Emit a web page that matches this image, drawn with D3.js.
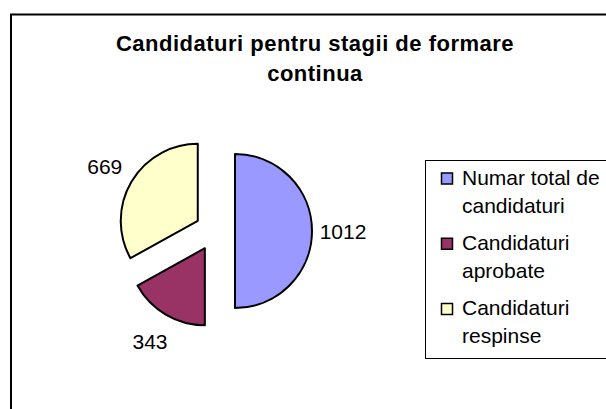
<!DOCTYPE html>
<html lang="en">
<head>
    <meta charset="UTF-8">
    <title>Candidaturi pentru stagii de formare continua</title>
    <script src="https://d3js.org/d3.v7.min.js"></script>
    <style>
        body {
            margin: 0;
            padding: 0;
            background: #fff;
            font-family: "Liberation Sans", Arial, sans-serif;
        }
        svg { display: block; }
    </style>
</head>
<body>
    <svg id="chart" width="606" height="409"></svg>

    <script>
        // chart data
        const titleLines = ["Candidaturi pentru stagii de formare", "continua"];
        const categories = ["Numar total de candidaturi", "Candidaturi aprobate", "Candidaturi respinse"];
        const legendLines = [["Numar total de", "candidaturi"], ["Candidaturi", "aprobate"], ["Candidaturi", "respinse"]];
        const values = [1012, 343, 669];
        const colors = ["#9999FF", "#993366", "#FFFFCC"];

        const svg = d3.select("#chart");

        // outer chart frame (runs past the right/bottom edges)
        svg.append("rect")
            .attr("x", 11)
            .attr("y", 14.5)
            .attr("width", 640)
            .attr("height", 420)
            .attr("fill", "#fff")
            .attr("stroke", "#000")
            .attr("stroke-width", 2);

        // title
        svg.append("text")
            .attr("x", 315)
            .attr("text-anchor", "middle")
            .style("font-size", "22px")
            .style("font-weight", "bold")
            .style("letter-spacing", "0.5px")
            .selectAll("tspan")
            .data(titleLines)
            .join("tspan")
            .attr("x", 315)
            .attr("y", (d, i) => 51 + i * 30)
            .text(d => d);

        // pie
        const cx = 215, cy = 231, radius = 77, explode = 20;

        const pie = d3.pie().sort(null).value(d => d);
        const arcs = pie(values);

        const arc = d3.arc().innerRadius(0).outerRadius(radius);
        const labelArc = d3.arc().innerRadius(explode + 108).outerRadius(explode + 108);

        const g = svg.append("g").attr("transform", `translate(${cx},${cy})`);

        g.selectAll("path")
            .data(arcs)
            .join("path")
            .attr("d", arc)
            .attr("fill", (d, i) => colors[i])
            .attr("stroke", "#000")
            .attr("stroke-width", 2)
            .attr("stroke-linejoin", "round")
            .attr("transform", d => {
                const a = (d.startAngle + d.endAngle) / 2;
                return `translate(${Math.sin(a) * explode},${-Math.cos(a) * explode})`;
            });

        g.selectAll("text.lbl")
            .data(arcs)
            .join("text")
            .attr("class", "lbl")
            .attr("transform", d => `translate(${labelArc.centroid(d)})`)
            .attr("text-anchor", "middle")
            .attr("dy", "0.36em")
            .style("font-size", "21px")
            .text(d => d.data);

        // legend
        const legend = svg.append("g");

        legend.append("rect")
            .attr("x", 425.5)
            .attr("y", 160.5)
            .attr("width", 220)
            .attr("height", 198)
            .attr("fill", "#fff")
            .attr("stroke", "#000")
            .attr("stroke-width", 1);

        const ly = d3.scaleLinear().domain([0, 2]).range([184.5, 315]);

        const item = legend.selectAll("g.item")
            .data(categories)
            .join("g")
            .attr("class", "item")
            .attr("transform", (d, i) => `translate(0,${ly(i)})`);

        item.append("rect")
            .attr("x", 441.5)
            .attr("y", -11.5)
            .attr("width", 11)
            .attr("height", 11)
            .attr("fill", (d, i) => colors[i])
            .attr("stroke", "#000")
            .attr("stroke-width", 1.5);

        item.append("text")
            .style("font-size", "21px")
            .selectAll("tspan")
            .data((d, i) => legendLines[i])
            .join("tspan")
            .attr("x", 462)
            .attr("y", (d, j) => j * 28)
            .text(d => d);
    </script>
</body>
</html>
